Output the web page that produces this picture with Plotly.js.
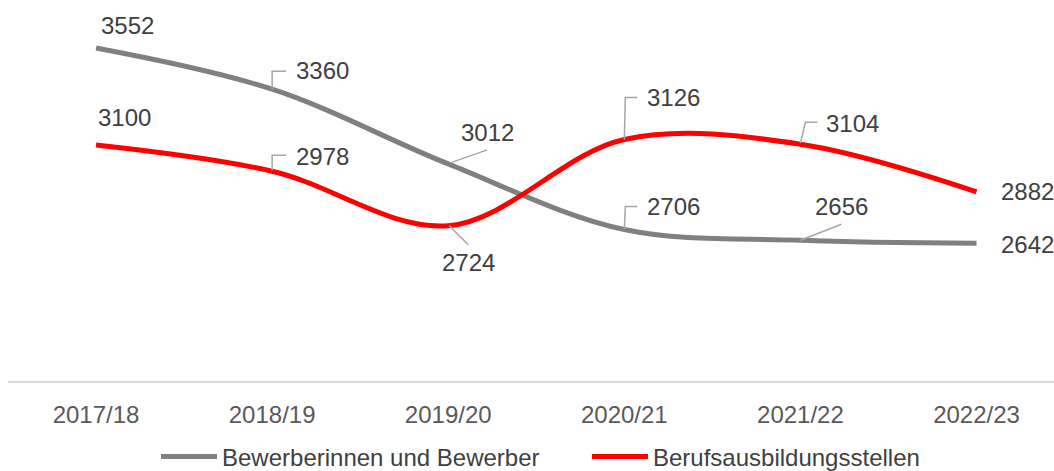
<!DOCTYPE html>
<html>
<head>
<meta charset="utf-8">
<script src="https://cdn.plot.ly/plotly-3.0.1.min.js"></script>
<style>html,body{margin:0;padding:0;background:#fff;}#chart{width:1054px;height:471px;}</style>
</head>
<body>
<div id="chart"></div>
<script>
const categories = ["2017/18", "2018/19", "2019/20", "2020/21", "2021/22", "2022/23"];
const bewerber = [3552, 3360, 3012, 2706, 2656, 2642];
const stellen = [3100, 2978, 2724, 3126, 3104, 2882];
const seriesNames = ["Bewerberinnen und Bewerber", "Berufsausbildungsstellen"];

// label placement (pixel offsets from each point) and leader paths (pixels, y up)
const bewLabelPos = [
  {dx: 31, dy: 23}, {dx: 50, dy: 18.5, lead: "M0,0 L0,18 L14,18"},
  {dx: 39, dy: 31, lead: "M2,1 L39,14"}, {dx: 49.5, dy: 23, lead: "M0,0 L1,23 L13,23"},
  {dx: 41, dy: 33.5, lead: "M0,0 L41,16"}, {dx: 50.5, dy: -1}
];
const steLabelPos = [
  {dx: 28, dy: 28}, {dx: 50, dy: 15, lead: "M0,1 L0,16 L14,16"},
  {dx: 20, dy: -37, lead: "M1,0 L20,-19"}, {dx: 49.5, dy: 41.7, lead: "M0,0 L1,42 L13,42"},
  {dx: 52, dy: 20.4, lead: "M0,1 L5,22 L17,22"}, {dx: 50.5, dy: 0}
];

const xs = categories.map((c, i) => i);
const font = "Liberation Sans, Arial, sans-serif";

const traces = [
  {x: xs, y: bewerber, name: seriesNames[0], type: "scatter", mode: "lines",
   line: {color: "#808080", width: 5, shape: "spline", smoothing: 1}, hoverinfo: "y"},
  {x: xs, y: stellen, name: seriesNames[1], type: "scatter", mode: "lines",
   line: {color: "#ff0000", width: 5, shape: "spline", smoothing: 1}, hoverinfo: "y"}
];

const annotations = [];
const shapes = [];
function addLabels(vals, pos) {
  vals.forEach((v, i) => {
    const p = pos[i];
    annotations.push({x: i, y: v, xref: "x", yref: "y", text: String(v), showarrow: false,
      xanchor: "center", yanchor: "middle", xshift: p.dx, yshift: p.dy,
      font: {family: font, size: 24, color: "#404040"}});
    if (p.lead) {
      shapes.push({type: "path", xref: "x", yref: "y", xsizemode: "pixel", ysizemode: "pixel",
        xanchor: i, yanchor: v, path: p.lead, line: {color: "#a6a6a6", width: 1.5}, layer: "above"});
    }
  });
}
addLabels(bewerber, bewLabelPos);
addLabels(stellen, steLabelPos);

const layout = {
  width: 1054, height: 471,
  margin: {l: 8, r: 0, t: 0, b: 90},
  paper_bgcolor: "#ffffff", plot_bgcolor: "#ffffff",
  showlegend: true,
  legend: {orientation: "h", xref: "container", yref: "container", x: 156 / 1054, xanchor: "left",
    y: 0.03, yanchor: "middle", font: {family: font, size: 24, color: "#404040"},
    itemwidth: 56, entrywidth: 360, entrywidthmode: "pixels"},
  xaxis: {type: "linear", range: [-0.5, 5.44], tickvals: xs, ticktext: categories,
    showgrid: false, zeroline: false, showline: true, linecolor: "#d9d9d9", linewidth: 1.5,
    ticks: "", ticklabelstandoff: 12, tickfont: {family: font, size: 24, color: "#595959"}, fixedrange: true},
  yaxis: {range: [2000, 3776], visible: false, showgrid: false, zeroline: false, fixedrange: true},
  annotations: annotations,
  shapes: shapes
};

Plotly.newPlot("chart", traces, layout, {displayModeBar: false, staticPlot: true});
</script>
</body>
</html>
